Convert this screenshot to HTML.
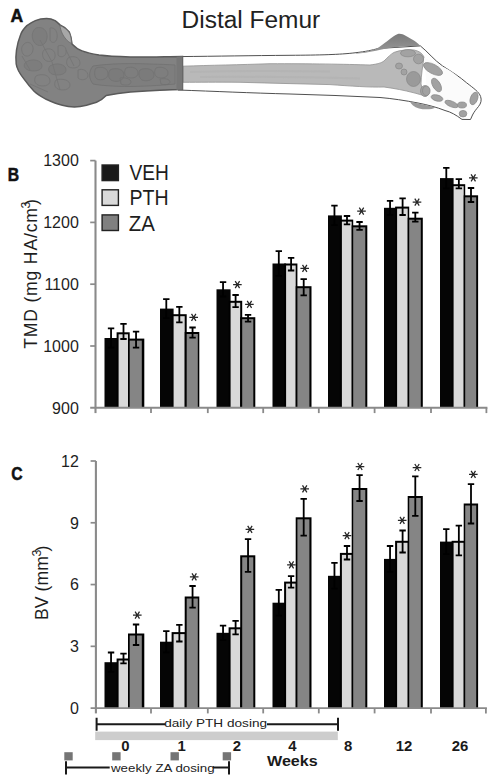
<!DOCTYPE html>
<html><head><meta charset="utf-8"><title>Distal Femur</title>
<style>
html,body{margin:0;padding:0;background:#fff;}
body{width:497px;height:784px;overflow:hidden;}
svg{display:block;}
text{font-family:"Liberation Sans",sans-serif;fill:#1e1e1e;}
.tl{font-size:16px;}
.pl{font-size:17.5px;font-weight:bold;fill:#111;stroke:#111;stroke-width:0.5px;}
.lg{font-size:22px;}
.yl{font-size:17.6px;}
.ann{font-size:11.3px;fill:#222;}
.wk{font-size:14.9px;font-weight:bold;fill:#1a1a1a;}
</style></head><body>
<svg width="497" height="784" viewBox="0 0 497 784">
<rect width="497" height="784" fill="#fff"/>

<defs><linearGradient id="capg" x1="0" y1="0" x2="0" y2="1"><stop offset="0" stop-color="#7a7a7a"/><stop offset="1" stop-color="#9a9a9a"/></linearGradient></defs>
<g id="femur">
<!-- shaft outer silhouette -->
<path d="M178 56.6 C220 56.2 250 55.6 290 55.3 C320 55.1 340 54.6 355 52.8 C366 51.5 372 50.2 378 48.5 L420.4 45.9 C428 52 434 60 442.5 65.9 C452 72 460 77 466.6 82.8 C474 88.5 479 92 480.6 96.5 C481.8 100 481 103.5 478.5 106.5 C476 109.5 474 112 472.5 115 L470.5 119.5 L462 119.4 C456 115 451 112 445 110.5 C436 107 428 105 418 103 C405 100.5 392 98.5 380 97.5 C350 96 320 94.8 290 94 C250 93 215 91.3 178 90 Z" fill="#fff" stroke="#505050" stroke-width="1"/>
<!-- trochanter cap -->
<path d="M356 53.2 C366 52 372 50.5 376.1 49.1 C381 46 385 43 387.4 41.1 C392 37 395 35 397.8 33.9 C401 33.4 403 34.3 405.1 35.5 C409 37.5 412 39.5 414.7 41.1 C417 43 419 44.5 420.4 45.9 C416 46 412 45.9 408.3 45.9 C402 46.5 397 47 392.2 47.5 C385 48.5 380 49.8 376.1 50.8 C368 52.5 362 53.3 356 53.7 Z" fill="url(#capg)"/>
<!-- lesser trochanter -->
<path d="M410 101.5 C418 103.5 428 105.5 436 107.5 C432 109.5 425 110 419 108.5 C414 107 411 104 410 101.5 Z" fill="#9a9a9a"/>
<!-- medullary core -->
<path d="M183 66.2 C210 65.2 240 64.8 270 63.7 C310 63.6 345 64.2 370 65 C378 64 381 63 384 61 C388 57 391 54 394 52.4 C400 50 408 49.6 414 50 C419 51 422 53 424 57 C423 65 421 75 421 84 C422 89 424 93 426 96 C421 95 417 93.5 413 92.6 C405 90.5 395 88.5 384 87 C370 87.5 350 86 330 84.6 C300 83.8 270 83.2 240 82.3 C215 82 200 82.3 183 82.3 Z" fill="#b9b9b9" stroke="#929292" stroke-width="0.8"/>
<!-- texture on core -->
<path d="M190 72 C230 71 270 70.5 330 71.5 M200 77 C250 76.5 300 77 360 78.5" stroke="#b0b0b0" stroke-width="2" fill="none" opacity="0.6"/>
<!-- trabecular lattice region right -->
<path d="M424 58 C436 63 446 68 452 72 C460 78 468 86 474 92 C477 97 477 102 474 106 C471 110 468 114 466 117 C460 113 452 110 445 108 C438 106 432 103 428 101 Z" fill="#fbfbfb"/>
<g fill="#a2a2a2" stroke="#868686" stroke-width="0.7">
<ellipse cx="408" cy="53.2" rx="7.5" ry="3.6"/>
<ellipse cx="418.5" cy="59" rx="5" ry="4.8"/>
<ellipse cx="413.5" cy="79" rx="7" ry="7.5" fill="#9a9a9a"/>
<ellipse cx="425" cy="91" rx="4.5" ry="5.5"/>
<ellipse cx="433" cy="69" rx="10.5" ry="4.6" transform="rotate(28 433 69)"/>
<ellipse cx="436.5" cy="85" rx="7.5" ry="3.8" transform="rotate(60 436.5 85)"/>
<ellipse cx="426.3" cy="90.8" rx="3.8" ry="4.8"/>
<ellipse cx="437" cy="98" rx="6" ry="3" transform="rotate(15 437 98)"/>
<ellipse cx="451.5" cy="104" rx="7" ry="2.8" transform="rotate(22 451.5 104)"/>
<ellipse cx="462" cy="105" rx="4.5" ry="3"/>
<ellipse cx="474" cy="98.5" rx="3.6" ry="6.5" transform="rotate(20 474 98.5)"/>
<ellipse cx="463" cy="113.7" rx="3.8" ry="3.3"/>
<ellipse cx="399" cy="66" rx="3.5" ry="3"/>
<ellipse cx="404" cy="72" rx="3" ry="3"/>
</g>
<!-- distal dark region -->
<path d="M182.5 56.4 C160 56.7 140 57.2 130.4 56.9 C115 56.5 105 55.8 99 55 C90 53.5 85 52 82 50.9 C78 49.5 76 48 72 43.9 C71.5 39 70.5 35 69.2 31.9 C67 29 64 26.5 60 24.9 C57.5 22.5 56 21.2 55.1 20.6 C52 19 49 18.5 46.6 18.5 C42 18.5 38 19.5 35.4 20.6 C31 22.5 29 24 26.9 25.6 C23.5 29 21.5 32 20.6 34.7 C18.5 40 17.2 45 16.5 50.2 C15.8 55 15.8 60 16.2 64 C17 70 20 74 24.1 79.1 C28 84.5 31 88 34.1 91.2 C38 94.8 42 97 46.2 99.3 C52 102 57 104 62.3 105.3 C66 106.3 70 106.9 74.4 106.9 C78 106.9 82 106.4 86.5 105.3 C90 104.3 93 103.4 96.5 102.3 C100 100.8 104 98 106.2 95.6 C115 93.8 122 92.8 130.4 91.9 C150 90.8 165 90 182.5 89.5 Z" fill="#828282" stroke="#5a5a5a" stroke-width="1.5"/>
<path d="M176.5 56.8 L182.5 56.5 L182.5 89.5 L176.5 89.7 Z" fill="#777"/>
<!-- condyle bump light -->
<path d="M60 25.5 C64 27 67.5 30 69.5 33 C70.8 36 71.5 40 71.5 43.5 C68 42 64.5 38 62.5 34 C61 31 60.3 28 60 25.5 Z" fill="#a8a8a8" stroke="#666" stroke-width="0.7"/>
<!-- mottled texture -->
<path d="M93 66 C110 63.5 130 63.2 150 64 C160 64.3 168 64.5 175 65 L175 84 C165 85 150 86.2 130 86.5 C115 86.5 100 85.5 93 84 C89 79 88 72 93 66 Z" fill="#7e7e7e" stroke="#717171" stroke-width="0.8"/>
<g fill="none" stroke="#6c6c6c" stroke-width="0.9" opacity="0.55">
<path d="M36 28 C42 26 48 30 47 38 C46 46 38 48 34 42 C31 37 32 31 36 28 Z"/>
<path d="M24 44 C28 40 34 44 33 50 C32 56 26 58 23 54 C21 50 21 47 24 44 Z"/>
<path d="M50 28 C55 27 58 32 57 38 C56 43 52 44 50 40 Z"/>
<path d="M26 62 C32 58 42 60 42 66 C42 71 33 72 28 70 C24 68 23 65 26 62 Z"/>
<path d="M44 50 C50 47 56 50 55 57 C54 62 47 63 44 59 C42 56 42 52 44 50 Z"/>
<path d="M58 46 C63 44 67 47 66 53 C65 57 60 58 58 55 Z"/>
<path d="M50 66 C56 62 66 64 66 70 C66 75 57 76 52 74 C48 72 48 68 50 66 Z"/>
<path d="M68 58 C73 55 80 57 80 63 C80 68 73 69 69 67 C66 65 66 61 68 58 Z"/>
<path d="M78 70 C83 68 88 71 88 76 C87 80 81 81 78 78 Z"/>
<path d="M36 76 C42 73 50 75 50 81 C50 86 42 87 38 85 C34 83 34 79 36 76 Z"/>
<path d="M56 80 C62 78 70 80 70 85 C70 90 62 91 58 89 C54 87 54 83 56 80 Z"/>
<path d="M22 56 L30 70 M40 40 L52 62 L60 90 M66 50 L74 66 M30 84 L48 92"/>
<path d="M96 68 C102 66 108 68 108 74 C108 79 101 81 97 79 C94 77 94 71 96 68 Z"/>
<path d="M110 70 C116 67 124 69 124 75 C124 81 116 83 111 80 C108 78 108 73 110 70 Z"/>
<path d="M126 68 C132 66 138 68 138 73 C138 78 131 79 127 77 C124 75 124 71 126 68 Z"/>
<path d="M120 78 C125 77 131 79 131 82 C131 85 125 86 121 84 Z"/>
<path d="M140 70 C146 67 154 69 154 75 C154 80 147 82 142 80 C139 78 138 73 140 70 Z"/>
<path d="M156 68 C161 66 168 68 168 73 C168 78 161 79 157 77 C154 75 154 71 156 68 Z"/>
<path d="M160 79 C164 78 170 79 170 82 C170 85 164 85 161 84 Z"/>
</g>
<g fill="#767676" opacity="0.35">
<path d="M36 28 C42 26 48 30 47 38 C46 46 38 48 34 42 C31 37 32 31 36 28 Z"/>
<path d="M26 62 C32 58 42 60 42 66 C42 71 33 72 28 70 C24 68 23 65 26 62 Z"/>
<path d="M50 66 C56 62 66 64 66 70 C66 75 57 76 52 74 C48 72 48 68 50 66 Z"/>
<path d="M110 70 C116 67 124 69 124 75 C124 81 116 83 111 80 C108 78 108 73 110 70 Z"/>
<path d="M140 70 C146 67 154 69 154 75 C154 80 147 82 142 80 C139 78 138 73 140 70 Z"/>
</g>
</g>
</g>

<text x="10.6" y="21.5" class="pl">A</text>
<text transform="translate(181.6 27.5) scale(1.05 1)" style="font-size:23.3px;fill:#222">Distal Femur</text>
<text transform="translate(7.7 180.9) scale(0.9 1)" class="pl">B</text>
<rect x="104.5" y="338.00" width="14.10" height="69.80" fill="#050505"/>
<rect x="116.60" y="332.30" width="13.10" height="75.50" fill="#000"/>
<rect x="118.60" y="334.30" width="9.40" height="73.50" fill="#d9d9d9"/>
<rect x="128.00" y="338.60" width="16.30" height="69.20" fill="#000"/>
<rect x="129.70" y="340.60" width="12.10" height="67.20" fill="#858585"/>
<path d="M111.05 328.40V347.60M107.85 328.40H114.25M107.85 347.60H114.25" stroke="#000" stroke-width="1.8" fill="none"/>
<path d="M123.50 323.90V339.00M120.30 323.90H126.70M120.30 339.00H126.70" stroke="#000" stroke-width="1.8" fill="none"/>
<path d="M136.05 331.70V347.70M132.85 331.70H139.25M132.85 347.70H139.25" stroke="#000" stroke-width="1.8" fill="none"/>
<rect x="160.0" y="308.60" width="13.60" height="99.20" fill="#050505"/>
<rect x="171.60" y="314.20" width="15.10" height="93.60" fill="#000"/>
<rect x="173.60" y="316.20" width="11.10" height="91.60" fill="#d9d9d9"/>
<rect x="184.70" y="332.00" width="14.60" height="75.80" fill="#000"/>
<rect x="186.70" y="334.00" width="11.10" height="73.80" fill="#858585"/>
<path d="M166.30 299.10V318.10M163.10 299.10H169.50M163.10 318.10H169.50" stroke="#000" stroke-width="1.8" fill="none"/>
<path d="M179.35 306.80V322.30M176.15 306.80H182.55M176.15 322.30H182.55" stroke="#000" stroke-width="1.8" fill="none"/>
<path d="M192.55 327.50V337.70M189.35 327.50H195.75M189.35 337.70H195.75" stroke="#000" stroke-width="1.8" fill="none"/>
<path d="M189.40 317.40H198.00M191.50 313.90L195.90 320.90M195.90 313.90L191.50 320.90" stroke="#262626" stroke-width="1.25" fill="none"/>
<rect x="216.5" y="289.30" width="14.10" height="118.50" fill="#050505"/>
<rect x="228.60" y="300.80" width="13.60" height="107.00" fill="#000"/>
<rect x="230.60" y="302.80" width="9.60" height="105.00" fill="#d9d9d9"/>
<rect x="240.20" y="317.20" width="15.10" height="90.60" fill="#000"/>
<rect x="242.20" y="319.20" width="11.10" height="88.60" fill="#858585"/>
<path d="M223.05 282.10V296.50M219.85 282.10H226.25M219.85 296.50H226.25" stroke="#000" stroke-width="1.8" fill="none"/>
<path d="M235.60 295.00V307.10M232.40 295.00H238.80M232.40 307.10H238.80" stroke="#000" stroke-width="1.8" fill="none"/>
<path d="M248.05 314.80V321.60M244.85 314.80H251.25M244.85 321.60H251.25" stroke="#000" stroke-width="1.8" fill="none"/>
<path d="M233.10 284.70H241.70M235.20 281.20L239.60 288.20M239.60 281.20L235.20 288.20" stroke="#262626" stroke-width="1.25" fill="none"/>
<path d="M245.10 304.40H253.70M247.20 300.90L251.60 307.90M251.60 300.90L247.20 307.90" stroke="#262626" stroke-width="1.25" fill="none"/>
<rect x="272.5" y="263.50" width="13.60" height="144.30" fill="#050505"/>
<rect x="284.10" y="263.50" width="13.30" height="144.30" fill="#000"/>
<rect x="286.10" y="265.50" width="9.60" height="142.30" fill="#d9d9d9"/>
<rect x="295.70" y="286.20" width="15.80" height="121.60" fill="#000"/>
<rect x="297.40" y="288.20" width="12.00" height="119.60" fill="#858585"/>
<path d="M278.80 251.10V275.90M275.60 251.10H282.00M275.60 275.90H282.00" stroke="#000" stroke-width="1.8" fill="none"/>
<path d="M291.10 257.80V270.50M287.90 257.80H294.30M287.90 270.50H294.30" stroke="#000" stroke-width="1.8" fill="none"/>
<path d="M303.70 279.10V295.30M300.50 279.10H306.90M300.50 295.30H306.90" stroke="#000" stroke-width="1.8" fill="none"/>
<path d="M300.40 268.40H309.00M302.50 264.90L306.90 271.90M306.90 264.90L302.50 271.90" stroke="#262626" stroke-width="1.25" fill="none"/>
<rect x="328.0" y="215.40" width="13.90" height="192.40" fill="#050505"/>
<rect x="339.90" y="219.60" width="13.30" height="188.20" fill="#000"/>
<rect x="341.90" y="221.60" width="9.80" height="186.20" fill="#d9d9d9"/>
<rect x="351.70" y="225.30" width="15.60" height="182.50" fill="#000"/>
<rect x="353.20" y="227.30" width="12.10" height="180.50" fill="#858585"/>
<path d="M334.45 205.70V225.10M331.25 205.70H337.65M331.25 225.10H337.65" stroke="#000" stroke-width="1.8" fill="none"/>
<path d="M347.00 216.00V224.40M343.80 216.00H350.20M343.80 224.40H350.20" stroke="#000" stroke-width="1.8" fill="none"/>
<path d="M359.55 222.00V229.90M356.35 222.00H362.75M356.35 229.90H362.75" stroke="#000" stroke-width="1.8" fill="none"/>
<path d="M357.20 211.10H365.80M359.30 207.60L363.70 214.60M363.70 207.60L359.30 214.60" stroke="#262626" stroke-width="1.25" fill="none"/>
<rect x="384.0" y="207.80" width="13.10" height="200.00" fill="#050505"/>
<rect x="395.10" y="206.60" width="14.10" height="201.20" fill="#000"/>
<rect x="397.10" y="208.60" width="10.60" height="199.20" fill="#d9d9d9"/>
<rect x="407.70" y="217.70" width="15.10" height="190.10" fill="#000"/>
<rect x="409.20" y="219.70" width="11.60" height="188.10" fill="#858585"/>
<path d="M390.05 200.80V214.80M386.85 200.80H393.25M386.85 214.80H393.25" stroke="#000" stroke-width="1.8" fill="none"/>
<path d="M402.60 198.40V215.00M399.40 198.40H405.80M399.40 215.00H405.80" stroke="#000" stroke-width="1.8" fill="none"/>
<path d="M415.30 212.60V221.70M412.10 212.60H418.50M412.10 221.70H418.50" stroke="#000" stroke-width="1.8" fill="none"/>
<path d="M412.70 202.10H421.30M414.80 198.60L419.20 205.60M419.20 198.60L414.80 205.60" stroke="#262626" stroke-width="1.25" fill="none"/>
<rect x="440.0" y="178.10" width="13.60" height="229.70" fill="#050505"/>
<rect x="451.60" y="184.20" width="13.60" height="223.60" fill="#000"/>
<rect x="453.60" y="186.20" width="10.10" height="221.60" fill="#d9d9d9"/>
<rect x="463.70" y="195.30" width="14.40" height="212.50" fill="#000"/>
<rect x="465.20" y="197.30" width="11.00" height="210.50" fill="#858585"/>
<path d="M446.30 167.80V188.40M443.10 167.80H449.50M443.10 188.40H449.50" stroke="#000" stroke-width="1.8" fill="none"/>
<path d="M458.85 179.10V188.40M455.65 179.10H462.05M455.65 188.40H462.05" stroke="#000" stroke-width="1.8" fill="none"/>
<path d="M471.00 188.00V202.00M467.80 188.00H474.20M467.80 202.00H474.20" stroke="#000" stroke-width="1.8" fill="none"/>
<path d="M469.00 177.90H477.60M471.10 174.40L475.50 181.40M475.50 174.40L471.10 181.40" stroke="#262626" stroke-width="1.25" fill="none"/>
<path d="M95.5 160.6V413.1" stroke="#8a8a8a" stroke-width="2.1" fill="none"/>
<path d="M90.2 407.8H487.4" stroke="#8a8a8a" stroke-width="1.9" fill="none"/>
<path d="M90.2 160.60H95.5" stroke="#8a8a8a" stroke-width="1.7" fill="none"/>
<path d="M90.2 222.40H95.5" stroke="#8a8a8a" stroke-width="1.7" fill="none"/>
<path d="M90.2 284.20H95.5" stroke="#8a8a8a" stroke-width="1.7" fill="none"/>
<path d="M90.2 346.00H95.5" stroke="#8a8a8a" stroke-width="1.7" fill="none"/>
<path d="M151.00 407.8V413.1" stroke="#8a8a8a" stroke-width="1.8" fill="none"/>
<path d="M207.80 407.8V413.1" stroke="#8a8a8a" stroke-width="1.8" fill="none"/>
<path d="M263.20 407.8V413.1" stroke="#8a8a8a" stroke-width="1.8" fill="none"/>
<path d="M318.80 407.8V413.1" stroke="#8a8a8a" stroke-width="1.8" fill="none"/>
<path d="M374.60 407.8V413.1" stroke="#8a8a8a" stroke-width="1.8" fill="none"/>
<path d="M431.00 407.8V413.1" stroke="#8a8a8a" stroke-width="1.8" fill="none"/>
<path d="M486.40 407.8V413.1" stroke="#8a8a8a" stroke-width="1.8" fill="none"/>
<text x="78.8" y="166.40" text-anchor="end" class="tl">1300</text>
<text x="78.8" y="228.20" text-anchor="end" class="tl">1200</text>
<text x="78.8" y="290.00" text-anchor="end" class="tl">1100</text>
<text x="78.8" y="351.80" text-anchor="end" class="tl">1000</text>
<text x="78.8" y="413.60" text-anchor="end" class="tl">900</text>
<rect x="102.1" y="165.0" width="16.3" height="15.6" fill="#1a1a1a" stroke="#222" stroke-width="1.4"/>
<text transform="translate(129.4 180.2) scale(0.87 1)" class="lg" style="fill:#1e1e1e">VEH</text>
<rect x="102.1" y="189.8" width="16.3" height="15.6" fill="#d9d9d9" stroke="#222" stroke-width="1.4"/>
<text transform="translate(129.4 205.4) scale(0.89 1)" class="lg" style="fill:#1e1e1e">PTH</text>
<rect x="102.1" y="214.9" width="16.3" height="15.6" fill="#808080" stroke="#222" stroke-width="1.4"/>
<text transform="translate(128.8 230.8) scale(0.93 1)" class="lg" style="fill:#1e1e1e">ZA</text>
<text transform="translate(36.8 348.8) rotate(-90)" class="yl" textLength="140.7" lengthAdjust="spacing" style="fill:#1e1e1e">TMD (mg HA/cm</text>
<text transform="translate(30 208.5) rotate(-90)" style="font-size:12.4px;fill:#1e1e1e">3</text>
<text transform="translate(36.8 205.0) rotate(-90)" class="yl" style="fill:#1e1e1e">)</text>
<text transform="translate(11.2 480.4) scale(0.9 1)" class="pl">C</text>
<rect x="104.5" y="662.20" width="14.10" height="45.90" fill="#050505"/>
<rect x="116.60" y="658.50" width="13.10" height="49.60" fill="#000"/>
<rect x="118.60" y="660.50" width="9.40" height="47.60" fill="#d9d9d9"/>
<rect x="128.00" y="633.50" width="16.30" height="74.60" fill="#000"/>
<rect x="129.70" y="635.50" width="12.10" height="72.60" fill="#858585"/>
<path d="M111.05 652.50V671.90M107.85 652.50H114.25M107.85 671.90H114.25" stroke="#000" stroke-width="1.8" fill="none"/>
<path d="M123.50 653.70V663.40M120.30 653.70H126.70M120.30 663.40H126.70" stroke="#000" stroke-width="1.8" fill="none"/>
<path d="M136.05 624.50V645.00M132.85 624.50H139.25M132.85 645.00H139.25" stroke="#000" stroke-width="1.8" fill="none"/>
<path d="M133.00 615.10H141.60M135.10 611.60L139.50 618.60M139.50 611.60L135.10 618.60" stroke="#262626" stroke-width="1.25" fill="none"/>
<rect x="160.0" y="641.70" width="13.60" height="66.40" fill="#050505"/>
<rect x="171.60" y="632.10" width="15.10" height="76.00" fill="#000"/>
<rect x="173.60" y="634.10" width="11.10" height="74.00" fill="#d9d9d9"/>
<rect x="184.70" y="596.50" width="14.60" height="111.60" fill="#000"/>
<rect x="186.70" y="598.50" width="11.10" height="109.60" fill="#858585"/>
<path d="M166.30 631.10V652.30M163.10 631.10H169.50M163.10 652.30H169.50" stroke="#000" stroke-width="1.8" fill="none"/>
<path d="M179.35 624.80V641.50M176.15 624.80H182.55M176.15 641.50H182.55" stroke="#000" stroke-width="1.8" fill="none"/>
<path d="M192.55 586.00V607.70M189.35 586.00H195.75M189.35 607.70H195.75" stroke="#000" stroke-width="1.8" fill="none"/>
<path d="M189.90 576.90H198.50M192.00 573.40L196.40 580.40M196.40 573.40L192.00 580.40" stroke="#262626" stroke-width="1.25" fill="none"/>
<rect x="216.5" y="632.80" width="14.10" height="75.30" fill="#050505"/>
<rect x="228.60" y="627.30" width="13.60" height="80.80" fill="#000"/>
<rect x="230.60" y="629.30" width="9.60" height="78.80" fill="#d9d9d9"/>
<rect x="240.20" y="555.30" width="15.10" height="152.80" fill="#000"/>
<rect x="242.20" y="557.30" width="11.10" height="150.80" fill="#858585"/>
<path d="M223.05 625.60V640.00M219.85 625.60H226.25M219.85 640.00H226.25" stroke="#000" stroke-width="1.8" fill="none"/>
<path d="M235.60 620.80V634.30M232.40 620.80H238.80M232.40 634.30H238.80" stroke="#000" stroke-width="1.8" fill="none"/>
<path d="M248.05 539.20V571.80M244.85 539.20H251.25M244.85 571.80H251.25" stroke="#000" stroke-width="1.8" fill="none"/>
<path d="M245.60 529.30H254.20M247.70 525.80L252.10 532.80M252.10 525.80L247.70 532.80" stroke="#262626" stroke-width="1.25" fill="none"/>
<rect x="272.5" y="602.70" width="13.60" height="105.40" fill="#050505"/>
<rect x="284.10" y="581.60" width="13.30" height="126.50" fill="#000"/>
<rect x="286.10" y="583.60" width="9.60" height="124.50" fill="#d9d9d9"/>
<rect x="295.70" y="517.30" width="15.80" height="190.80" fill="#000"/>
<rect x="297.40" y="519.30" width="12.00" height="188.80" fill="#858585"/>
<path d="M278.80 589.80V615.60M275.60 589.80H282.00M275.60 615.60H282.00" stroke="#000" stroke-width="1.8" fill="none"/>
<path d="M291.10 576.20V587.60M287.90 576.20H294.30M287.90 587.60H294.30" stroke="#000" stroke-width="1.8" fill="none"/>
<path d="M303.70 498.90V535.70M300.50 498.90H306.90M300.50 535.70H306.90" stroke="#000" stroke-width="1.8" fill="none"/>
<path d="M287.10 564.90H295.70M289.20 561.40L293.60 568.40M293.60 561.40L289.20 568.40" stroke="#262626" stroke-width="1.25" fill="none"/>
<path d="M300.40 488.90H309.00M302.50 485.40L306.90 492.40M306.90 485.40L302.50 492.40" stroke="#262626" stroke-width="1.25" fill="none"/>
<rect x="328.0" y="575.80" width="13.90" height="132.30" fill="#050505"/>
<rect x="339.90" y="552.90" width="13.30" height="155.20" fill="#000"/>
<rect x="341.90" y="554.90" width="9.80" height="153.20" fill="#d9d9d9"/>
<rect x="351.70" y="488.00" width="15.60" height="220.10" fill="#000"/>
<rect x="353.20" y="490.00" width="12.10" height="218.10" fill="#858585"/>
<path d="M334.45 562.90V588.70M331.25 562.90H337.65M331.25 588.70H337.65" stroke="#000" stroke-width="1.8" fill="none"/>
<path d="M347.00 546.00V559.50M343.80 546.00H350.20M343.80 559.50H350.20" stroke="#000" stroke-width="1.8" fill="none"/>
<path d="M359.55 475.10V501.00M356.35 475.10H362.75M356.35 501.00H362.75" stroke="#000" stroke-width="1.8" fill="none"/>
<path d="M342.70 535.60H351.30M344.80 532.10L349.20 539.10M349.20 532.10L344.80 539.10" stroke="#262626" stroke-width="1.25" fill="none"/>
<path d="M355.70 466.50H364.30M357.80 463.00L362.20 470.00M362.20 463.00L357.80 470.00" stroke="#262626" stroke-width="1.25" fill="none"/>
<rect x="384.0" y="558.90" width="13.10" height="149.20" fill="#050505"/>
<rect x="395.10" y="540.80" width="14.10" height="167.30" fill="#000"/>
<rect x="397.10" y="542.80" width="10.60" height="165.30" fill="#d9d9d9"/>
<rect x="407.70" y="496.00" width="15.10" height="212.10" fill="#000"/>
<rect x="409.20" y="498.00" width="11.60" height="210.10" fill="#858585"/>
<path d="M390.05 546.00V571.80M386.85 546.00H393.25M386.85 571.80H393.25" stroke="#000" stroke-width="1.8" fill="none"/>
<path d="M402.60 530.50V552.50M399.40 530.50H405.80M399.40 552.50H405.80" stroke="#000" stroke-width="1.8" fill="none"/>
<path d="M415.30 476.30V515.80M412.10 476.30H418.50M412.10 515.80H418.50" stroke="#000" stroke-width="1.8" fill="none"/>
<path d="M397.90 520.30H406.50M400.00 516.80L404.40 523.80M404.40 516.80L400.00 523.80" stroke="#262626" stroke-width="1.25" fill="none"/>
<path d="M412.70 467.50H421.30M414.80 464.00L419.20 471.00M419.20 464.00L414.80 471.00" stroke="#262626" stroke-width="1.25" fill="none"/>
<rect x="440.0" y="541.60" width="13.60" height="166.50" fill="#050505"/>
<rect x="451.60" y="540.80" width="13.60" height="167.30" fill="#000"/>
<rect x="453.60" y="542.80" width="10.10" height="165.30" fill="#d9d9d9"/>
<rect x="463.70" y="503.50" width="14.40" height="204.60" fill="#000"/>
<rect x="465.20" y="505.50" width="11.00" height="202.60" fill="#858585"/>
<path d="M446.30 529.10V554.10M443.10 529.10H449.50M443.10 554.10H449.50" stroke="#000" stroke-width="1.8" fill="none"/>
<path d="M458.85 525.70V555.30M455.65 525.70H462.05M455.65 555.30H462.05" stroke="#000" stroke-width="1.8" fill="none"/>
<path d="M471.00 484.20V523.50M467.80 484.20H474.20M467.80 523.50H474.20" stroke="#000" stroke-width="1.8" fill="none"/>
<path d="M469.00 474.30H477.60M471.10 470.80L475.50 477.80M475.50 470.80L471.10 477.80" stroke="#262626" stroke-width="1.25" fill="none"/>
<path d="M95.9 461.0V713.4" stroke="#8a8a8a" stroke-width="2.1" fill="none"/>
<path d="M90.60000000000001 708.1H486.9" stroke="#8a8a8a" stroke-width="1.9" fill="none"/>
<path d="M90.60000000000001 461.00H95.9" stroke="#8a8a8a" stroke-width="1.7" fill="none"/>
<path d="M90.60000000000001 522.77H95.9" stroke="#8a8a8a" stroke-width="1.7" fill="none"/>
<path d="M90.60000000000001 584.55H95.9" stroke="#8a8a8a" stroke-width="1.7" fill="none"/>
<path d="M90.60000000000001 646.33H95.9" stroke="#8a8a8a" stroke-width="1.7" fill="none"/>
<path d="M151.00 708.1V713.4" stroke="#8a8a8a" stroke-width="1.8" fill="none"/>
<path d="M207.80 708.1V713.4" stroke="#8a8a8a" stroke-width="1.8" fill="none"/>
<path d="M263.20 708.1V713.4" stroke="#8a8a8a" stroke-width="1.8" fill="none"/>
<path d="M318.80 708.1V713.4" stroke="#8a8a8a" stroke-width="1.8" fill="none"/>
<path d="M374.60 708.1V713.4" stroke="#8a8a8a" stroke-width="1.8" fill="none"/>
<path d="M431.00 708.1V713.4" stroke="#8a8a8a" stroke-width="1.8" fill="none"/>
<path d="M485.90 708.1V713.4" stroke="#8a8a8a" stroke-width="1.8" fill="none"/>
<text x="78.8" y="466.80" text-anchor="end" class="tl">12</text>
<text x="78.8" y="528.57" text-anchor="end" class="tl">9</text>
<text x="78.8" y="590.35" text-anchor="end" class="tl">6</text>
<text x="78.8" y="652.12" text-anchor="end" class="tl">3</text>
<text x="78.8" y="713.90" text-anchor="end" class="tl">0</text>
<text transform="translate(47.6 620.1) rotate(-90)" class="yl" textLength="64.0" lengthAdjust="spacing" style="fill:#1e1e1e">BV (mm</text>
<text transform="translate(40.8 556.6) rotate(-90)" style="font-size:12.4px;fill:#1e1e1e">3</text>
<text transform="translate(47.6 551.5) rotate(-90)" class="yl" style="fill:#1e1e1e">)</text>
<path d="M96.6 717.8V730.8M96.6 724.2H165.5M267 724.2H338M338 717.8V730.8" stroke="#1a1a1a" stroke-width="2" fill="none"/>
<text transform="translate(164.2 727.1) scale(1.205 1)" class="ann">daily PTH dosing</text>
<rect x="95.2" y="731.6" width="242.6" height="8.5" fill="#cdcdcd"/>
<text x="121.3" y="750.9" class="wk">0</text>
<text x="177.6" y="750.9" class="wk">1</text>
<text x="232.8" y="750.9" class="wk">2</text>
<text x="288.2" y="750.9" class="wk">4</text>
<text x="344" y="750.9" class="wk">8</text>
<text x="395.8" y="750.9" class="wk">12</text>
<text x="451.8" y="750.9" class="wk">26</text>
<rect x="64.3" y="752.2" width="8.4" height="8.2" fill="#757575"/>
<rect x="112.2" y="752.2" width="8.4" height="8.2" fill="#757575"/>
<rect x="170.5" y="752.2" width="8.4" height="8.2" fill="#757575"/>
<rect x="222.7" y="752.2" width="8.4" height="8.2" fill="#757575"/>
<path d="M66 761.2V774.4M66 767.5H109.7M213 767.5H229M229 761.2V774.4" stroke="#1a1a1a" stroke-width="2" fill="none"/>
<text transform="translate(111 771.6) scale(1.18 1)" class="ann">weekly ZA dosing</text>
<text transform="translate(267 765.5) scale(1.11 1)" style="font-size:14.5px;font-weight:bold;fill:#1a1a1a">Weeks</text>
</svg></body></html>
